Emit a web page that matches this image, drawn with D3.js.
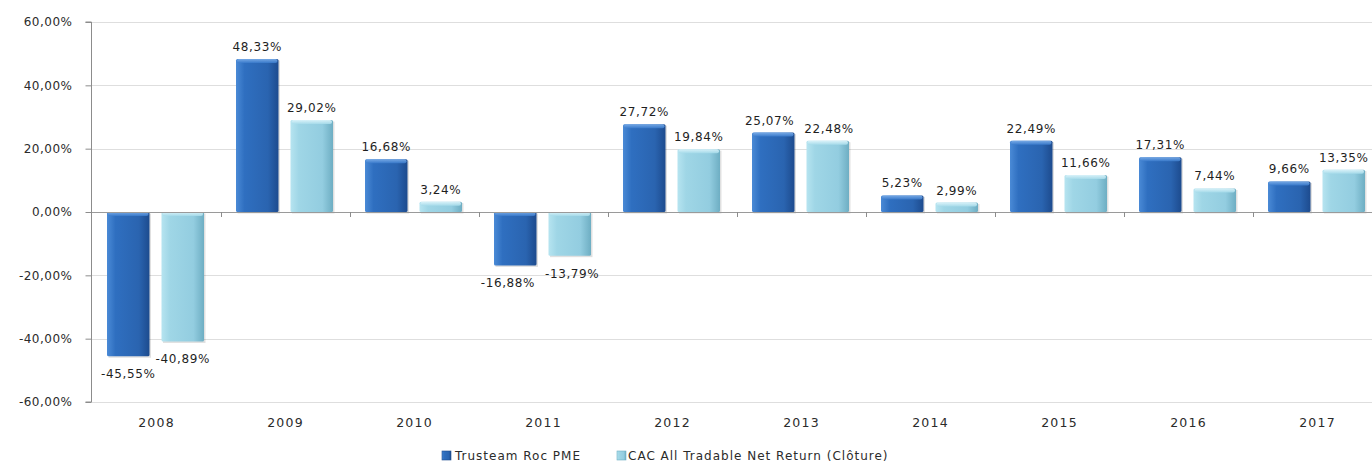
<!DOCTYPE html>
<html>
<head>
<meta charset="utf-8">
<script src="https://cdn.jsdelivr.net/npm/d3@7"></script>
<style>
  html, body { margin: 0; padding: 0; background: #fff; }
  svg { display: block; font-family: "DejaVu Sans", Verdana, sans-serif; }
</style>
</head>
<body>
<svg id="chart" width="1372" height="463"></svg>
<script>
const years = ["2008","2009","2010","2011","2012","2013","2014","2015","2016","2017"];
const seriesNames = ["Trusteam Roc PME", "CAC All Tradable Net Return (Clôture)"];
const trusteam = [-45.55, 48.33, 16.68, -16.88, 27.72, 25.07, 5.23, 22.49, 17.31, 9.66];
const cac = [-40.89, 29.02, 3.24, -13.79, 19.84, 22.48, 2.99, 11.66, 7.44, 13.35];
const yTicks = [-60, -40, -20, 0, 20, 40, 60];

(function () {
const values = [trusteam, cac];
const fmt = v => v.toFixed(2).replace(".", ",") + "%";

const svg = d3.select("#chart");
const W = 1372;
const pLeft = 92, pRight = 1382, pTop = 22, pBottom = 402;

const x0 = d3.scaleBand().domain(years).range([pLeft, pRight]).paddingInner(0).paddingOuter(0);
const x1 = d3.scaleBand().domain([0, 1]).range([15, 112]).paddingInner(0.22);
const y = d3.scaleLinear().domain([-60, 60]).range([pBottom, pTop]);

// gradients
const defs = svg.append("defs");
const palettes = [
  { id: "g0", stops: ["#4a8ad6", "#2f6fc0", "#2a64b0", "#1d4b8e"], tp: ["#7fb0ea", "#3a7bcc"] },
  { id: "g1", stops: ["#b6e4f0", "#9fd6e6", "#93cde0", "#6eaec3"], tp: ["#dff5fb", "#a6dbea"] }
];
palettes.forEach(p => {
  const g = defs.append("linearGradient").attr("id", p.id).attr("x1", "0").attr("x2", "1").attr("y1", "0").attr("y2", "0");
  [0, 0.2, 0.75, 1].forEach((o, i) => g.append("stop").attr("offset", o).attr("stop-color", p.stops[i]));
  const t = defs.append("linearGradient").attr("id", p.id + "t").attr("x1", "0").attr("x2", "0").attr("y1", "0").attr("y2", "1");
  t.append("stop").attr("offset", 0).attr("stop-color", p.tp[0]);
  t.append("stop").attr("offset", 1).attr("stop-color", p.tp[1]);
});

// gridlines
svg.append("g").selectAll("line").data(yTicks).join("line")
  .attr("x1", pLeft).attr("x2", W)
  .attr("y1", d => Math.round(y(d)) + 0.5).attr("y2", d => Math.round(y(d)) + 0.5)
  .attr("stroke", "#dedede").attr("stroke-width", 1);

// y axis
const yAxis = d3.axisLeft(y).tickValues(yTicks).tickSize(6).tickFormat(d => d.toFixed(2).replace(".", ",") + "%");
const ya = svg.append("g").attr("transform", `translate(${pLeft - 0.5},0)`).call(yAxis);
ya.select(".domain").attr("stroke", "#8c8c8c").attr("d", `M-6,${y(60)}H0V${y(-60)}H-6`);
ya.selectAll(".tick line").attr("stroke", "#8c8c8c");
ya.selectAll(".tick text").attr("x", -19).attr("fill", "#2b2b2b").attr("font-size", 12)
  .attr("letter-spacing", 0.5).attr("font-family", "DejaVu Sans, sans-serif");

// bars
const groups = svg.append("g").selectAll("g").data(years).join("g")
  .attr("transform", d => `translate(${x0(d)},0)`);

const barData = (yr, i) => values.map((vals, s) => ({ s, v: vals[i], yr }));

groups.each(function(yr, i) {
  const g = d3.select(this);
  barData(yr, i).forEach(d => {
    const bx = x1(d.s), bw = x1.bandwidth();
    const y0 = y(0), yv = y(d.v);
    const ytop = Math.min(y0, yv), h = Math.abs(yv - y0);
    g.append("rect").attr("x", bx + 1.5).attr("y", ytop + 1.5).attr("width", bw).attr("height", h)
      .attr("fill", "#000").attr("opacity", 0.12);
    g.append("rect").attr("x", bx).attr("y", ytop).attr("width", bw).attr("height", h)
      .attr("fill", `url(#g${d.s})`).attr("rx", 1.5);
    const hh = Math.min(4, h);
    g.append("rect").attr("x", bx + 1).attr("y", ytop).attr("width", bw - 2).attr("height", hh)
      .attr("fill", `url(#g${d.s}t)`).attr("rx", 2).attr("opacity", 0.9);
  });
});

// zero line
svg.append("line").attr("x1", pLeft).attr("x2", W).attr("y1", Math.round(y(0)) + 0.5).attr("y2", Math.round(y(0)) + 0.5)
  .attr("stroke", "#9a9a9a");
// category ticks on zero line
svg.append("g").selectAll("line").data(years).join("line")
  .attr("x1", d => Math.round(x0(d) + x0.step()) + 0.5)
  .attr("x2", d => Math.round(x0(d) + x0.step()) + 0.5)
  .attr("y1", y(0)).attr("y2", y(0) + 5)
  .attr("stroke", "#8c8c8c");

// data labels
const labelLayer = svg.append("g").attr("font-size", 12).attr("fill", "#1f1f1f").attr("letter-spacing", 0.6);
years.forEach((yr, i) => {
  const items = barData(yr, i).map(d => {
    const cx = x0(yr) + x1(d.s) + x1.bandwidth() / 2;
    const by = d.v >= 0 ? y(d.v) - 8 : y(d.v) + 22;
    const t = labelLayer.append("text").attr("x", cx).attr("y", by).attr("text-anchor", "middle").text(fmt(d.v));
    return { t, cx, by };
  });
  const a = items[0], b = items[1];
  const wa = a.t.node().getComputedTextLength(), wb = b.t.node().getComputedTextLength();
  const vOverlap = Math.abs(a.by - b.by) < 11;
  const need = (wa + wb) / 2 + 10 - (b.cx - a.cx);
  if (vOverlap && need > 0) {
    a.t.attr("x", a.cx - need * 0.75);
    b.t.attr("x", b.cx + need * 0.25);
  }
});

// x labels
svg.append("g").selectAll("text").data(years).join("text")
  .attr("x", d => x0(d) + x0.bandwidth() / 2).attr("y", 427)
  .attr("text-anchor", "middle").attr("font-size", 12.5).attr("letter-spacing", 1.2)
  .attr("fill", "#2b2b2b").text(d => d);

// legend
const lg = svg.append("g").attr("font-size", 12).attr("fill", "#2b2b2b").attr("letter-spacing", 1.0);
const legX = [442, 617];
seriesNames.forEach((name, s) => {
  lg.append("rect").attr("x", legX[s]).attr("y", 451).attr("width", 9).attr("height", 9)
    .attr("fill", `url(#g${s})`).attr("stroke", s === 0 ? "#1d4b8e" : "#6eaec3").attr("stroke-width", 0.6);
  lg.append("text").attr("x", legX[s] + (s === 0 ? 13 : 11)).attr("y", 459.5).text(name);
});
})();
</script>
</body>
</html>
